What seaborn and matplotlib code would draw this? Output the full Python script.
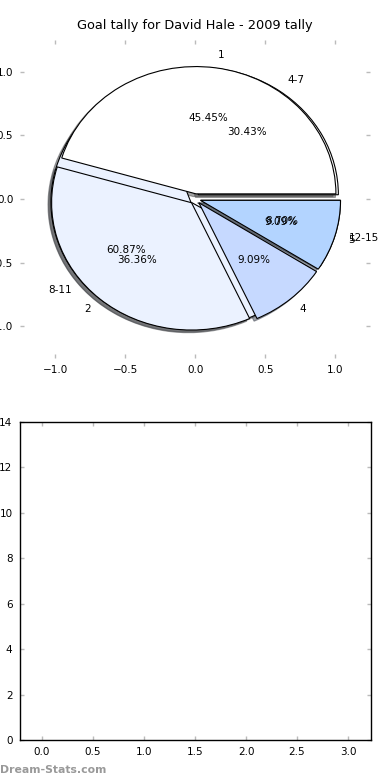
import matplotlib
matplotlib.use("Agg")
import matplotlib.pyplot as plt
import seaborn as sns
import numpy as np

# ---- data ----
title = "Goal tally for David Hale - 2009 tally"
inner_labels = ["1", "2", "4", "5"]
inner_values = [5, 4, 1, 1]
outer_labels = ["4-7", "8-11", "12-15"]
outer_values = [7, 14, 2]
pie_colors = ["#FFFFFF", "#EBF2FF", "#C6D9FF", "#B3D4FF"]
pie_xticks = [-1.0, -0.5, 0.0, 0.5, 1.0]
pie_yticks = [-1.0, -0.5, 0.0, 0.5, 1.0]
bar_xticks = [0.0, 0.5, 1.0, 1.5, 2.0, 2.5, 3.0]
bar_yticks = [0, 2, 4, 6, 8, 10, 12, 14]
watermark = "Dream-Stats.com"

sns.set_theme(style="white")
plt.rcParams["font.family"] = ["DejaVu Sans"]
plt.rcParams["axes.unicode_minus"] = True
plt.rcParams["text.color"] = "black"
plt.rcParams["axes.labelcolor"] = "black"

fs = 7.5
fig = plt.figure(figsize=(3.9, 7.8), dpi=100)
ax1 = fig.add_axes([0.052, 0.541, 0.897, 0.408])
ax2 = fig.add_axes([0.050, 0.0513, 0.9, 0.408])

wp = {"linewidth": 0.8, "edgecolor": "black"}
tp = {"fontsize": fs, "color": "black"}
shadow_kw = {"ox": -0.015, "oy": -0.015, "shade": 0.7}

# second series drawn first (underneath)
ax1.pie(outer_values, labels=outer_labels, colors=pie_colors[:len(outer_values)],
        explode=[0.04] * len(outer_values), autopct="%.2f%%", shadow=shadow_kw,
        startangle=0, wedgeprops=wp, textprops=tp)
ax1.pie(inner_values, labels=inner_labels, colors=pie_colors[:len(inner_values)],
        explode=[0.04] * len(inner_values), autopct="%.2f%%", shadow=shadow_kw,
        startangle=0, wedgeprops=wp, textprops=tp)

ax1.set_aspect("auto")
ax1.set_frame_on(False)
ax1.set_xlim(-1.25, 1.25)
ax1.set_ylim(-1.25, 1.25)
ax1.set_xticks(pie_xticks)
ax1.set_yticks(pie_yticks)
ax1.set_xticklabels([f"{v:.1f}".replace("-", "\u2212") for v in pie_xticks])
ax1.set_yticklabels([f"{v:.1f}".replace("-", "\u2212") for v in pie_yticks])
ax1.set_title(title, fontsize=9.3, pad=8, color="black")

ax2.set_xlim(-0.22, 3.22)
ax2.set_ylim(0, 14)
ax2.set_xticks(bar_xticks)
ax2.set_yticks(bar_yticks)
ax2.set_xticklabels([f"{v:.1f}" for v in bar_xticks])
ax2.set_yticklabels([str(v) for v in bar_yticks])
for s in ax2.spines.values():
    s.set_visible(True)
    s.set_color("black")
    s.set_linewidth(1.0)

for ax in (ax1, ax2):
    ax.tick_params(axis="both", which="both", direction="in", length=3, width=1,
                   color="#bbbbbb", labelsize=fs, labelcolor="black",
                   top=True, right=True, bottom=True, left=True, pad=5)

fig.text(0.0, 0.006, watermark, fontsize=7.8, color="#999999", fontweight="bold",
         ha="left", va="bottom")

fig.savefig("out.png", dpi=100)
